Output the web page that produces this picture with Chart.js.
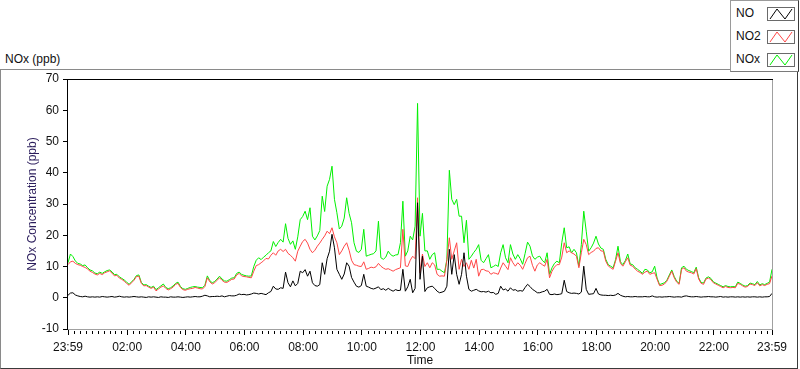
<!DOCTYPE html>
<html lang="en">
<head>
<meta charset="UTF-8">
<title>NOx (ppb)</title>
<script src="https://cdn.jsdelivr.net/npm/chart.js"></script>
<style>
  body {
    margin: 0;
    background: #fff;
    font-family: "Liberation Sans", Arial, sans-serif;
    color: #111;
  }
  #wrap { position: relative; width: 800px; height: 369px; overflow: hidden; }
  #frame {
    position: absolute; left: 0; top: 69px; width: 796px; height: 298px;
    border-top: 1px solid #8a8a8a; border-left: 1px solid #8a8a8a;
    border-right: 1px solid #3a3a3a; border-bottom: 1px solid #3a3a3a;
  }
  #plotTitle { position: absolute; left: 5px; top: 52px; font-size: 12px; line-height: 14px; }
  #chart { position: absolute; left: 0; top: 0; }
  #legend {
    position: absolute; left: 730px; top: 0; width: 67px; height: 70px;
    background: #fff;
    border-top: 1px solid #9a9a9a; border-left: 1px solid #9a9a9a;
    border-right: 1px solid #3a3a3a; border-bottom: 1px solid #7a7a7a;
  }
  .row { position: absolute; left: 0; width: 67px; height: 16px; }
  .row span { position: absolute; left: 5px; top: 0; font-size: 12px; line-height: 14px; }
  .row svg { position: absolute; left: 36px; top: 1px; }
</style>
</head>
<body>
<div id="wrap">
  <div id="frame"></div>
  <div id="plotTitle">NOx (ppb)</div>
  <canvas id="chart" width="800" height="369"></canvas>
  <div id="legend"></div>
</div>

<script>
  // x axis labels (minutes counted from 23:59 of the day before)
  const tickLabels = ["23:59", "02:00", "04:00", "06:00", "08:00", "10:00", "12:00",
                      "14:00", "16:00", "18:00", "20:00", "22:00", "23:59"];
  const stepMinutes = 5;

  // NO (ppb), one value every 5 minutes, one row per hour
  const no = [
    0.8, 1.5, 1.6, 0.9, 0.6, 0.4, 0.3, 0.5, 0.3, 0.2, 0.3, 0.2,
    0.3, 0.2, 0.4, 0.3, 0.2, 0.3, 0.4, 0.2, 0.3, 0.5, 0.3, 0.2,
    0.3, 0.2, 0.3, 0.4, 0.3, 0.2, 0.3, 0.2, 0.1, 0.3, 0.2, 0.3,
    0.2, 0.1, 0.3, 0.2, 0.2, 0.1, 0.3, 0.2, 0.2, 0.3, 0.2, 0.1,
    0.2, 0.3, 0.2, 0.3, 0.4, 0.3, 0.3, 0.5, 0.8, 0.6, 0.3, 0.4,
    0.4, 0.5, 0.4, 0.6, 0.3, 0.5, 0.7, 0.6, 0.6, 0.8, 1.2, 1.0,
    1.1, 0.9, 1.0, 1.2, 1.5, 1.4, 1.2, 1.4, 1.2, 1.0, 1.6, 2.0,
    3.7, 2.8, 2.7, 3.2, 3.0, 8.2, 4.8, 3.5, 5.4, 3.8, 4.6, 8.5,
    8.0, 9.0, 6.9, 8.5, 4.8, 3.9, 3.7, 4.2, 11.2, 7.5, 12.5, 14.9,
    20.3, 16.0, 9.1, 7.5, 5.9, 7.6, 11.2, 10.1, 6.5, 5.0, 3.7, 3.4,
    3.9, 7.5, 3.7, 3.4, 3.0, 2.8, 3.1, 3.5, 2.6, 2.9, 2.4, 3.0,
    2.5, 2.1, 2.6, 2.3, 2.4, 9.1, 2.1, 3.5, 5.9, 1.6, 3.0, 30.4,
    5.9, 13.3, 2.0, 3.2, 3.5, 3.7, 3.0, 2.1, 1.6, 1.8, 2.1, 3.7,
    15.5, 7.5, 13.8, 7.5, 4.3, 7.5, 14.4, 6.9, 2.7, 2.1, 2.4, 2.7,
    2.2, 1.9, 2.0, 1.8, 2.1, 1.6, 1.7, 1.1, 1.4, 3.7, 2.5, 2.8,
    2.1, 3.2, 2.4, 2.6, 2.1, 2.3, 2.1, 3.3, 4.3, 3.6, 2.7, 2.2,
    1.6, 1.6, 1.9, 2.1, 2.7, 1.1, 1.0, 1.2, 1.0, 1.1, 1.3, 5.6,
    2.0, 1.6, 1.4, 1.5, 1.4, 1.2, 1.8, 10.1, 2.7, 1.1, 1.2, 1.3,
    3.0, 1.2, 0.9, 0.8, 0.8, 0.7, 0.8, 0.7, 0.9, 1.4, 0.8, 0.5,
    0.3, 0.4, 0.3, 0.3, 0.4, 0.3, 0.3, 0.3, 0.4, 0.3, 0.3, 0.6,
    0.3, 0.2, 0.3, 0.2, 0.3, 0.3, 0.4, 0.3, 0.2, 0.3, 0.3, 0.2,
    0.5, 0.6, 0.4, 0.3, 0.3, 0.4, 0.3, 0.2, 0.3, 0.3, 0.4, 0.3,
    0.3, 0.2, 0.3, 0.4, 0.2, 0.3, 0.2, 0.3, 0.3, 0.2, 0.3, 0.2,
    0.3, 0.2, 0.3, 0.2, 0.3, 0.3, 0.2, 0.3, 0.2, 0.3, 0.3, 0.4,
    1.4
  ];

  // NO2 (ppb)
  const no2 = [
    10.6, 11.5, 11.7, 11.0, 10.6, 10.4, 10.0, 9.7, 9.2, 8.5, 8.1, 7.6,
    7.3, 7.8, 7.4, 8.0, 8.3, 8.6, 7.9, 7.0, 7.2, 6.3, 5.9, 5.3,
    4.6, 4.0, 4.8, 5.6, 6.8, 6.9, 4.6, 3.8, 3.9, 3.4, 3.0, 3.4,
    2.2, 2.8, 3.4, 3.8, 3.0, 2.5, 2.9, 3.4, 4.3, 4.6, 3.3, 2.6,
    2.4, 2.7, 2.9, 3.0, 3.3, 3.1, 2.9, 2.8, 3.6, 6.4, 5.1, 4.4,
    4.8, 5.6, 6.4, 5.6, 5.0, 4.9, 5.4, 5.9, 6.0, 7.3, 7.8, 7.0,
    6.8, 6.7, 6.5, 6.4, 8.5, 10.3, 10.6, 11.2, 11.8, 12.6, 12.4, 13.6,
    14.4, 13.6, 15.0, 15.5, 14.8, 15.5, 14.2, 13.6, 12.8, 11.7, 14.9, 16.5,
    18.0, 18.7, 17.5, 15.5, 14.4, 15.2, 16.5, 17.5, 18.7, 19.8, 21.3, 20.5,
    22.4, 19.5, 17.6, 13.8, 15.0, 16.5, 17.6, 15.2, 12.0, 10.6, 10.4, 10.1,
    10.0, 11.5, 9.1, 9.4, 9.8, 9.6, 9.9, 11.0, 10.1, 9.5, 9.1, 9.3,
    8.9, 8.5, 9.0, 9.3, 9.6, 21.9, 10.2, 10.0, 12.0, 13.3, 12.5, 32.0,
    8.0, 14.0, 10.0, 11.2, 9.6, 11.2, 10.5, 7.5, 6.9, 7.0, 6.9, 12.0,
    19.2, 12.3, 15.0, 17.6, 9.1, 12.3, 10.0, 11.2, 9.1, 12.0, 9.5, 12.3,
    6.9, 9.0, 9.1, 8.6, 8.5, 7.5, 8.0, 7.8, 7.5, 9.5, 11.2, 10.1,
    9.0, 12.8, 11.2, 10.1, 11.2, 10.4, 9.1, 11.0, 12.8, 13.3, 10.4, 8.5,
    10.5, 11.2, 10.6, 10.1, 12.3, 6.4, 8.5, 9.8, 10.6, 10.6, 13.0, 17.6,
    14.4, 15.0, 14.4, 14.0, 13.3, 9.6, 14.4, 18.7, 17.0, 13.8, 14.5, 14.9,
    15.8, 16.0, 15.0, 14.9, 11.7, 10.2, 9.6, 9.1, 11.7, 14.4, 11.0, 10.1,
    11.5, 12.8, 10.4, 10.1, 9.2, 8.5, 8.1, 7.5, 8.2, 8.5, 7.5, 7.8,
    8.0, 5.9, 3.9, 4.0, 4.4, 5.3, 6.9, 8.5, 6.4, 5.0, 4.3, 9.1,
    9.6, 8.5, 8.2, 8.0, 7.6, 9.3, 6.0, 4.6, 4.3, 6.0, 6.3, 5.8,
    4.8, 4.4, 4.0, 3.6, 3.2, 3.6, 3.3, 3.2, 3.3, 3.2, 4.6, 4.3,
    3.8, 3.4, 3.6, 4.4, 4.2, 3.9, 4.8, 3.8, 4.2, 3.9, 4.3, 4.5,
    7.0
  ];

  // NOx (ppb)
  const nox = [
    11.2, 14.0, 13.2, 11.8, 11.0, 10.8, 10.3, 10.5, 9.6, 8.9, 8.6, 7.9,
    7.7, 8.2, 7.8, 8.3, 8.7, 8.9, 8.3, 7.4, 7.5, 6.7, 6.2, 5.7,
    5.0, 4.3, 5.1, 5.9, 7.1, 7.3, 4.9, 4.1, 4.2, 3.7, 3.3, 3.7,
    2.6, 3.2, 3.8, 4.4, 3.3, 2.9, 3.2, 3.8, 4.6, 5.0, 3.6, 2.9,
    2.7, 3.0, 3.3, 3.5, 3.6, 3.4, 3.3, 3.2, 4.0, 7.0, 5.5, 4.8,
    5.2, 6.0, 6.9, 6.0, 5.4, 5.3, 5.8, 6.3, 6.4, 7.8, 8.2, 7.5,
    7.2, 7.0, 6.9, 7.0, 10.0, 12.0, 12.8, 12.2, 13.0, 13.6, 14.4, 15.0,
    18.0, 16.4, 17.7, 18.7, 17.8, 23.7, 19.0, 17.1, 18.2, 15.5, 19.5, 25.0,
    26.0, 27.7, 25.0, 28.8, 19.7, 18.5, 19.8, 21.5, 32.5, 27.6, 35.7, 37.9,
    42.1, 31.5, 27.2, 22.0, 22.9, 25.5, 32.0, 27.0, 24.0, 17.6, 14.9, 14.5,
    15.5, 21.9, 13.3, 13.6, 13.9, 14.1, 15.0, 24.5, 12.8, 12.3, 13.0, 14.9,
    13.8, 13.3, 13.7, 13.8, 17.6, 30.9, 13.3, 15.0, 19.7, 18.5, 22.9, 62.2,
    19.7, 27.0, 15.0, 15.0, 12.3, 13.8, 14.4, 9.1, 9.1, 8.5, 8.0, 12.3,
    40.8, 31.5, 29.8, 31.5, 26.1, 26.1, 17.6, 24.8, 12.3, 13.3, 14.5, 15.5,
    17.0, 12.0, 11.2, 12.5, 13.8, 9.6, 10.0, 10.5, 10.0, 14.4, 17.0, 12.8,
    11.2, 17.0, 14.0, 12.3, 13.8, 12.5, 10.7, 14.2, 17.8, 16.5, 13.4, 12.3,
    13.0, 13.3, 12.0, 11.2, 14.4, 7.5, 9.6, 11.0, 11.7, 11.2, 17.6, 22.4,
    16.0, 16.3, 14.4, 15.5, 14.4, 10.1, 17.0, 27.7, 21.3, 14.9, 16.0, 17.5,
    19.7, 17.2, 15.9, 15.5, 12.3, 10.6, 10.1, 9.6, 12.2, 16.5, 11.5, 10.6,
    11.9, 14.0, 10.8, 10.6, 9.6, 9.1, 8.5, 7.8, 9.1, 8.9, 8.0, 8.3,
    10.1, 6.3, 4.2, 4.5, 4.8, 5.6, 7.3, 8.9, 6.8, 5.3, 4.6, 9.6,
    10.1, 9.1, 8.7, 8.4, 8.0, 9.8, 6.4, 4.9, 4.7, 6.3, 6.7, 6.2,
    5.1, 4.7, 4.3, 3.9, 3.5, 3.9, 3.6, 3.5, 3.6, 3.5, 5.0, 4.6,
    4.1, 3.7, 3.9, 4.7, 4.5, 4.2, 5.2, 4.1, 4.5, 4.2, 4.6, 5.0,
    9.1
  ];

  const seriesNames = ["NO", "NO2", "NOx"];
  const seriesColors = ["#000000", "#ff4646", "#00f000"];

  // tick label -> minutes after 23:59
  const tickMinutes = tickLabels.map((lab, i) => {
    if (i === tickLabels.length - 1) return 1440;
    const [h, m] = lab.split(":").map(Number);
    return ((h * 60 + m) - (23 * 60 + 59) + 1440) % 1440;
  });

  const toPoints = arr => arr.map((v, i) => ({ x: i * stepMinutes, y: v }));

  // frame of the plot box and the small ticks of the time axis
  const framePlugin = {
    id: "frame",
    afterDatasetsDraw(chart) {
      const { ctx, chartArea: a, scales } = chart;
      ctx.save();
      ctx.lineWidth = 1;
      ctx.strokeStyle = "#a0a0a0";
      ctx.beginPath();
      ctx.moveTo(a.left, a.bottom + 0.5); ctx.lineTo(a.right + 1, a.bottom + 0.5);
      ctx.moveTo(a.right + 0.5, a.top); ctx.lineTo(a.right + 0.5, a.bottom + 1);
      ctx.stroke();
      ctx.strokeStyle = "#000";
      ctx.beginPath();
      ctx.moveTo(a.left - 0.5, a.top); ctx.lineTo(a.left - 0.5, a.bottom + 1);
      ctx.moveTo(a.left - 1, a.top + 0.5); ctx.lineTo(a.right + 1, a.top + 0.5);
      ctx.stroke();
      // minor ticks every 12 minutes
      ctx.beginPath();
      for (let k = 1; k < 120; k++) {
        if (k % 10 === 0) continue;
        const px = Math.round(scales.x.getPixelForValue(1 + 12 * k)) + 0.5;
        ctx.moveTo(px, a.bottom + 2);
        ctx.lineTo(px, a.bottom + 5);
      }
      ctx.stroke();
      ctx.restore();
    }
  };

  const tickFont = { family: "'Liberation Sans', Arial, sans-serif", size: 12 };

  new Chart(document.getElementById("chart"), {
    type: "line",
    data: {
      datasets: [no, no2, nox].map((arr, i) => ({
        label: seriesNames[i],
        data: toPoints(arr),
        borderColor: seriesColors[i],
        borderWidth: 1,
        pointRadius: 0,
        tension: 0,
        fill: false
      }))
    },
    options: {
      responsive: false,
      animation: false,
      devicePixelRatio: 1,
      events: [],
      layout: { padding: { left: 0, top: 79, right: 28, bottom: 0 } },
      plugins: { legend: { display: false }, tooltip: { enabled: false } },
      scales: {
        x: {
          type: "linear",
          min: 0,
          max: 1440,
          afterBuildTicks: scale => { scale.ticks = tickMinutes.map(v => ({ value: v })); },
          afterFit: scale => { scale.height = 40; },
          ticks: {
            autoSkip: false,
            maxRotation: 0,
            padding: 5,
            color: "#111",
            font: tickFont,
            callback: value => {
              const k = tickMinutes.indexOf(value);
              return k >= 0 ? tickLabels[k] : "";
            }
          },
          grid: { drawOnChartArea: false, drawTicks: true, tickLength: 6, tickColor: "#000" },
          border: { display: false },
          title: {
            display: true,
            text: "Time",
            color: "#111",
            font: tickFont,
            padding: { top: 0, bottom: 1 }
          }
        },
        y: {
          min: -10,
          max: 70,
          afterFit: scale => { scale.width = 68; },
          ticks: { stepSize: 10, padding: 4, color: "#111", font: tickFont },
          grid: { drawOnChartArea: false, drawTicks: true, tickLength: 5, tickColor: "#000" },
          border: { display: false },
          title: {
            display: true,
            text: "NOx Concentration (ppb)",
            color: "#2b1d5c",
            font: tickFont,
            padding: { top: 25, bottom: 0 }
          }
        }
      }
    },
    plugins: [framePlugin]
  });

  // legend box in the top right corner
  const legend = document.getElementById("legend");
  seriesNames.forEach((name, i) => {
    const row = document.createElement("div");
    row.className = "row";
    row.style.top = (5 + i * 23) + "px";
    row.innerHTML =
      '<span>' + name + '</span>' +
      '<svg width="28" height="14" viewBox="0 0 28 14">' +
      '<rect x="0.5" y="0.5" width="27" height="13" fill="#fff" stroke="#6a6a6a"/>' +
      '<polyline points="3,12 10,2 18,12 25,2" fill="none" stroke="' + seriesColors[i] + '" stroke-width="1"/>' +
      '</svg>';
    legend.appendChild(row);
  });
</script>
</body>
</html>
